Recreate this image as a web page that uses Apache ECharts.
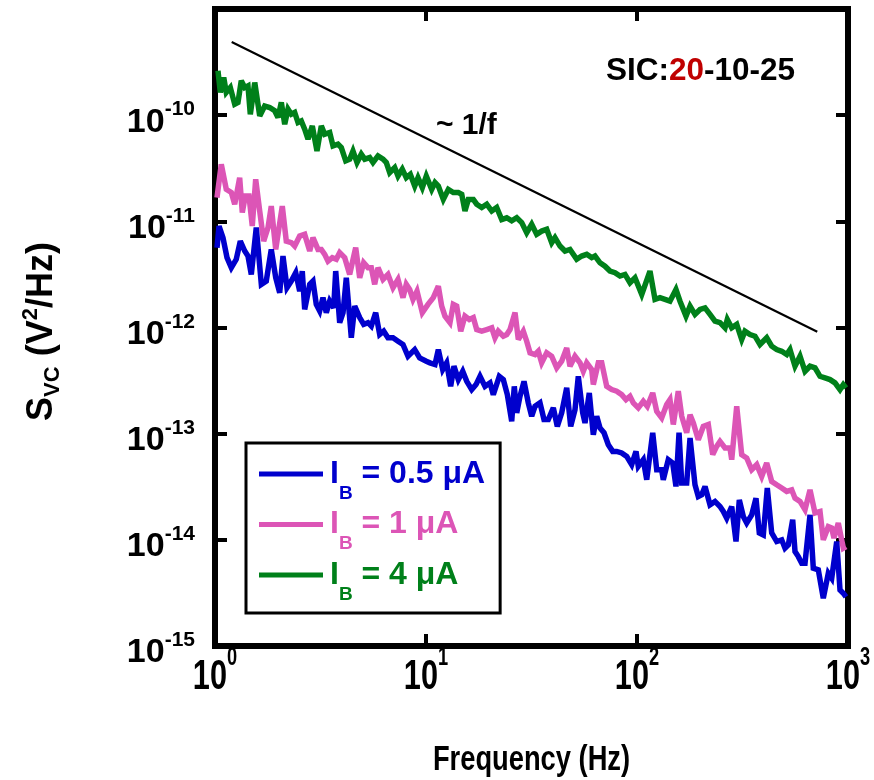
<!DOCTYPE html>
<html>
<head>
<meta charset="utf-8">
<script src="https://cdn.jsdelivr.net/npm/echarts@6/dist/echarts.min.js"></script>
<style>
  html, body { margin: 0; padding: 0; background: #ffffff; }
  #chart { width: 874px; height: 780px; }
</style>
</head>
<body>
<div id="chart"></div>
<script>
// Collector voltage noise spectral density S_VC versus frequency, three base currents.

// I_B = 0.5 uA
const freqLow = [
  1.022, 1.045, 1.091, 1.140, 1.195, 1.261, 1.318, 1.383, 1.433, 1.486,
  1.569, 1.658, 1.750, 1.848, 1.940, 2.026, 2.100, 2.194, 2.299, 2.413,
  2.520, 2.592, 2.661, 2.811, 2.913, 3.020, 3.134, 3.249, 3.369, 3.496,
  3.652, 3.733, 3.899, 4.044, 4.191, 4.426, 4.594, 4.851, 5.066, 5.310,
  5.505, 5.775, 6.033, 6.302, 6.603, 6.977, 7.368, 7.780, 8.216, 8.842,
  9.335, 10.03,
  10.44, 11.03, 11.44, 12.00, 12.53, 13.09, 13.57, 14.23, 14.93, 15.60,
  16.47, 17.26, 18.03, 19.04, 20.11, 20.84, 22.25, 23.25, 24.29, 25.48,
  26.21, 26.91, 27.89, 29.14, 30.53, 31.69, 32.86, 34.69, 36.24, 37.98,
  40.12, 41.91, 43.96, 46.44, 48.51, 50.83, 52.70, 55.29, 56.70, 59.41,
  62.08, 64.42, 66.78, 69.76, 73.11, 76.70, 80.13, 84.62, 89.37, 94.38,
  98.92,
  101.4, 107.1, 111.2, 118.7, 124.0, 130.9, 133.2, 140.7, 147.6, 153.0,
  158.2, 162.9, 172.0, 178.4, 188.3, 195.2, 202.6, 210.1, 221.8, 234.2,
  247.4, 256.5, 266.2, 281.1, 294.6, 305.4, 319.0, 331.1, 349.6, 366.4,
  379.9, 396.8, 414.5, 434.9, 459.3, 485.1, 502.8, 521.3, 546.8, 560.9,
  581.5, 603.5, 625.6, 660.7, 684.8, 723.2, 763.7, 806.6, 837.1, 884.0,
  916.5, 950.0, 978.4
];
const svcLow = [
  5.65e-12, 9.03e-12, 7.02e-12, 4.55e-12, 3.66e-12, 4.39e-12, 6.52e-12, 5.25e-12, 4.71e-12, 3.16e-12,
  8.73e-12, 2.55e-12, 2.74e-12, 5.44e-12, 2.94e-12, 2.12e-12, 4.71e-12, 2.37e-12, 2.74e-12, 3.28e-12,
  2.20e-12, 3.40e-12, 1.48e-12, 2.55e-12, 2.74e-12, 1.65e-12, 1.43e-12, 1.91e-12, 1.38e-12, 1.77e-12,
  1.53e-12, 3.40e-12, 1.11e-12, 1.38e-12, 2.94e-12, 8.00e-13, 1.59e-12, 1.24e-12, 1.07e-12, 1.11e-12,
  1.03e-12, 1.38e-12, 8.59e-13, 9.23e-13, 8.00e-13, 8.00e-13, 7.43e-13, 6.92e-13, 5.36e-13, 6.19e-13,
  5.18e-13, 4.81e-13,
  4.65e-13, 4.48e-13, 6.19e-13, 4.02e-13, 4.65e-13, 2.79e-13, 4.32e-13, 3.23e-13, 3.87e-13, 3.11e-13,
  2.60e-13, 2.90e-13, 3.47e-13, 2.79e-13, 3.01e-13, 2.33e-13, 3.47e-13, 3.23e-13, 2.33e-13, 1.31e-13,
  2.79e-13, 1.57e-13, 2.25e-13, 3.11e-13, 1.95e-13, 1.46e-13, 1.81e-13, 1.95e-13, 1.36e-13, 1.36e-13,
  1.75e-13, 1.17e-13, 1.57e-13, 2.70e-13, 1.17e-13, 1.68e-13, 3.47e-13, 1.57e-13, 1.26e-13, 2.42e-13,
  9.79e-14, 1.46e-13, 1.13e-13, 1.02e-13, 7.87e-14, 6.81e-14, 6.81e-14, 6.58e-14, 6.11e-14, 5.10e-14,
  6.81e-14,
  4.92e-14, 5.69e-14, 3.68e-14, 1.02e-13, 4.57e-14, 4.57e-14, 3.68e-14, 5.69e-14, 5.30e-14, 3.18e-14,
  1.02e-13, 3.43e-14, 3.43e-14, 9.10e-14, 3.30e-14, 2.56e-14, 2.66e-14, 3.18e-14, 2.14e-14, 2.30e-14,
  2.06e-14, 1.85e-14, 1.60e-14, 2.06e-14, 9.64e-15, 2.38e-14, 1.66e-14, 1.44e-14, 1.72e-14, 2.47e-14,
  1.16e-14, 1.11e-14, 3.08e-14, 1.16e-14, 9.64e-15, 1.00e-14, 8.35e-15, 8.97e-15, 1.55e-14, 7.76e-15,
  6.95e-15, 6.03e-15, 6.03e-15, 1.72e-14, 5.41e-15, 5.21e-15, 2.82e-15, 4.85e-15, 4.35e-15, 9.64e-15,
  3.37e-15, 3.14e-15, 2.90e-15
];

// I_B = 1 uA
const freqMid = [
  1.022, 1.071, 1.131, 1.195, 1.240, 1.309, 1.347, 1.392, 1.449, 1.502,
  1.559, 1.629, 1.701, 1.783, 1.848, 1.940, 2.084, 2.177, 2.299, 2.386,
  2.520, 2.661, 2.811, 2.913, 3.077, 3.190, 3.311, 3.432, 3.597, 3.757,
  3.899, 4.119, 4.348, 4.643, 4.851, 5.066, 5.310, 5.505, 5.713, 5.923,
  6.256, 6.603, 6.977, 7.368, 7.780, 8.064, 8.369, 8.678, 9.065, 9.605,
  10.22,
  10.83, 11.44, 11.87, 12.30, 12.99, 13.47, 13.98, 14.61, 15.30, 16.04,
  16.76, 17.39, 18.37, 19.40, 20.49, 21.23, 22.01, 23.25, 24.13, 25.01,
  26.42, 27.38, 28.92, 30.01, 31.12, 32.86, 34.06, 35.34, 37.33, 39.42,
  41.64, 43.96, 46.44, 48.13, 50.83, 53.70, 55.66, 57.76, 61.00, 62.08,
  65.56, 68.04, 71.84, 75.87, 80.13, 84.62, 88.69, 92.64, 96.05,
  101.4, 107.1, 111.9, 118.7, 124.0, 130.9, 138.3, 143.3, 148.6, 156.9,
  162.9, 172.0, 178.4, 184.9, 195.2, 206.2, 217.7, 228.5, 238.6, 247.4,
  261.3, 275.9, 281.1, 296.9, 313.5, 331.1, 349.6, 369.3, 389.9, 411.8,
  434.9, 459.3, 485.1, 512.3, 541.0, 560.9, 592.3, 625.6, 660.7, 697.7,
  736.9, 763.7, 806.6, 837.1, 858.3, 899.5, 950.0, 978.4
];
const svcMid = [
  1.67e-11, 3.45e-11, 2.00e-11, 1.87e-11, 1.45e-11, 2.58e-11, 1.21e-11, 1.73e-11, 1.73e-11, 9.03e-12,
  2.49e-11, 1.25e-11, 6.52e-12, 8.73e-12, 1.39e-11, 5.44e-12, 1.39e-11, 6.52e-12, 6.30e-12, 5.85e-12,
  7.26e-12, 7.54e-12, 5.25e-12, 7.02e-12, 5.44e-12, 5.44e-12, 4.89e-12, 4.22e-12, 4.55e-12, 4.39e-12,
  5.07e-12, 4.55e-12, 3.16e-12, 5.65e-12, 2.94e-12, 4.07e-12, 3.66e-12, 3.66e-12, 2.55e-12, 3.66e-12,
  2.84e-12, 3.16e-12, 2.37e-12, 2.84e-12, 1.91e-12, 2.55e-12, 2.28e-12, 1.84e-12, 2.20e-12, 1.38e-12,
  1.65e-12,
  1.91e-12, 2.45e-12, 1.59e-12, 1.28e-12, 1.11e-12, 1.65e-12, 1.59e-12, 9.23e-13, 1.28e-12, 1.19e-12,
  1.24e-12, 9.57e-13, 9.23e-13, 9.57e-13, 9.93e-13, 8.00e-13, 9.23e-13, 8.28e-13, 8.59e-13, 9.57e-13,
  1.38e-12, 7.71e-13, 9.23e-13, 7.43e-13, 5.77e-13, 5.56e-13, 5.97e-13, 4.65e-13, 5.77e-13, 5.36e-13,
  4.17e-13, 4.81e-13, 6.43e-13, 4.32e-13, 5.36e-13, 4.65e-13, 3.87e-13, 4.65e-13, 4.02e-13, 2.90e-13,
  4.65e-13, 4.65e-13, 2.79e-13, 2.60e-13, 2.51e-13, 2.33e-13, 2.09e-13, 2.25e-13, 1.95e-13,
  1.75e-13, 2.02e-13, 1.81e-13, 2.42e-13, 1.62e-13, 1.41e-13, 1.88e-13, 2.09e-13, 1.22e-13, 2.51e-13,
  1.46e-13, 1.02e-13, 1.51e-13, 1.26e-13, 8.77e-14, 1.17e-13, 1.22e-13, 6.34e-14, 7.59e-14, 8.46e-14,
  7.33e-14, 7.33e-14, 5.69e-14, 1.81e-13, 6.34e-14, 5.90e-14, 4.57e-14, 5.10e-14, 3.95e-14, 5.30e-14,
  3.55e-14, 3.30e-14, 3.08e-14, 2.86e-14, 2.96e-14, 2.47e-14, 2.30e-14, 1.92e-14, 2.96e-14, 1.79e-14,
  1.85e-14, 1.00e-14, 1.33e-14, 1.29e-14, 1.04e-14, 1.44e-14, 8.35e-15, 8.65e-15
];

// I_B = 4 uA
const freqHigh = [
  1.033, 1.060, 1.100, 1.131, 1.182, 1.240, 1.285, 1.332, 1.383, 1.433,
  1.470, 1.543, 1.629, 1.720, 1.816, 1.918, 1.989, 2.062, 2.140, 2.218,
  2.299, 2.386, 2.474, 2.564, 2.661, 2.759, 2.892, 3.043, 3.190, 3.311,
  3.496, 3.625, 3.827, 3.968, 4.164, 4.348, 4.508, 4.710, 4.935, 5.123,
  5.410, 5.608, 5.923, 6.256, 6.485, 6.730, 7.107, 7.368, 7.720, 8.064,
  8.425, 8.842, 9.166, 9.605, 10.03,
  10.25, 10.64, 11.03, 11.44, 12.08, 12.76, 13.47, 14.23, 14.77, 15.30,
  15.87, 16.76, 17.39, 18.37, 19.40, 20.49, 21.63, 22.85, 24.13, 25.48,
  26.91, 28.42, 30.01, 31.69, 33.47, 35.34, 37.33, 39.42, 40.87, 43.16,
  45.58, 48.13, 51.79, 54.70, 57.76, 61.00, 63.23, 66.78, 70.52, 74.47,
  78.65, 83.06, 87.72, 92.64,
  97.84, 105.3, 115.2, 121.7, 128.5, 135.7, 143.3, 153.0, 159.9, 170.7,
  178.4, 188.3, 198.9, 210.1, 221.8, 234.2, 247.4, 261.3, 267.9, 281.1,
  296.9, 313.5, 324.9, 343.2, 362.4, 382.7, 411.8, 434.9, 459.3, 485.1,
  512.3, 531.1, 560.9, 592.3, 625.6, 660.7, 697.7, 736.9, 778.0, 821.7,
  867.8, 916.5, 950.0, 978.4
];
const svcHigh = [
  2.62e-10, 1.64e-10, 2.27e-10, 1.64e-10, 1.82e-10, 1.27e-10, 1.32e-10, 2.11e-10, 1.82e-10, 1.89e-10,
  1.02e-10, 2.03e-10, 9.84e-11, 1.22e-10, 1.18e-10, 1.10e-10, 9.51e-11, 1.32e-10, 8.22e-11, 1.14e-10,
  1.02e-10, 1.06e-10, 8.53e-11, 8.83e-11, 7.38e-11, 5.94e-11, 7.92e-11, 4.60e-11, 7.92e-11, 6.62e-11,
  6.87e-11, 5.13e-11, 5.32e-11, 4.95e-11, 3.71e-11, 3.85e-11, 4.60e-11, 3.58e-11, 4.29e-11, 3.85e-11,
  3.99e-11, 3.58e-11, 4.13e-11, 3.85e-11, 3.58e-11, 2.88e-11, 3.21e-11, 2.67e-11, 3.10e-11, 2.58e-11,
  2.77e-11, 2.15e-11, 2.58e-11, 2.08e-11, 2.67e-11,
  2.77e-11, 2.00e-11, 2.32e-11, 2.15e-11, 1.61e-11, 2.00e-11, 1.87e-11, 1.87e-11, 1.80e-11, 1.25e-11,
  1.61e-11, 1.61e-11, 1.45e-11, 1.35e-11, 1.45e-11, 1.25e-11, 1.35e-11, 1.04e-11, 1.08e-11, 1.01e-11,
  1.08e-11, 9.72e-12, 7.82e-12, 9.38e-12, 7.54e-12, 8.09e-12, 8.41e-12, 6.30e-12, 7.02e-12, 5.85e-12,
  5.25e-12, 5.44e-12, 4.39e-12, 4.71e-12, 4.89e-12, 4.55e-12, 4.71e-12, 4.07e-12, 3.78e-12, 3.40e-12,
  3.28e-12, 3.05e-12, 3.16e-12, 2.64e-12,
  2.94e-12, 2.05e-12, 3.40e-12, 1.84e-12, 1.91e-12, 1.84e-12, 1.77e-12, 2.28e-12, 1.77e-12, 1.28e-12,
  1.59e-12, 1.33e-12, 1.48e-12, 1.53e-12, 1.33e-12, 1.15e-12, 1.11e-12, 9.93e-13, 1.19e-12, 9.93e-13,
  1.07e-12, 7.71e-13, 9.23e-13, 8.59e-13, 8.28e-13, 6.92e-13, 8.00e-13, 6.67e-13, 6.19e-13, 5.97e-13,
  5.56e-13, 6.19e-13, 4.32e-13, 5.36e-13, 3.87e-13, 4.32e-13, 4.17e-13, 3.47e-13, 3.35e-13, 3.23e-13,
  3.01e-13, 2.60e-13, 2.90e-13, 2.70e-13
];

// 1/f guide line end points
const slopeFreq = [1.2, 715];
const slopeSvc = [4.9e-10, 9.1e-13];

// Legend entries and colours
const seriesCurrents = ['0.5', '1', '4'];
const seriesColors = ['#0000CD', '#DC55B6', '#00801A'];

// Axis ranges and frequency tick values
const freqRange = [1, 1000];
const svcRange = [1e-15, 1e-9];
const freqTicks = [1, 10, 100, 1000];

const FONT = '"Liberation Sans", Arial, Helvetica, sans-serif';

function pairs(xs, ys) {
  return xs.map(function (x, i) { return [x, ys[i]]; });
}
function exponentOf(v) {
  return Math.round(Math.log10(v));
}
function powerLabel(v) {
  return '{b|10}{s|' + exponentOf(v) + '}';
}

const yPowerRich = {
  b: { fontSize: 34, fontWeight: 'bold', fontFamily: FONT, color: '#000', lineHeight: 40, verticalAlign: 'bottom' },
  s: { fontSize: 21, fontWeight: 'bold', fontFamily: FONT, color: '#000', lineHeight: 20, verticalAlign: 'top' }
};
// frequency labels use a tall, condensed setting of the same face
const xPowerRich = {
  b: { fontSize: 42, fontWeight: 'bold', fontFamily: FONT, fill: '#000', lineHeight: 52, verticalAlign: 'bottom' },
  s: { fontSize: 25, fontWeight: 'bold', fontFamily: FONT, fill: '#000', lineHeight: 22, verticalAlign: 'top' }
};

const seriesNames = seriesCurrents.map(function (c) { return 'I_B = ' + c + ' \u03bcA'; });

const legendRich = {};
seriesColors.forEach(function (col, i) {
  legendRich['i' + i] = { fontSize: 32, fontWeight: 'bold', fontFamily: FONT, color: col, lineHeight: 58, verticalAlign: 'middle', padding: [0, 0, 0, 2] };
  legendRich['b' + i] = { fontSize: 19, fontWeight: 'bold', fontFamily: FONT, color: col, lineHeight: 14, verticalAlign: 'bottom' };
  legendRich['t' + i] = { fontSize: 32, fontWeight: 'bold', fontFamily: FONT, color: col, lineHeight: 58, verticalAlign: 'middle' };
});

const tickStyle = { inside: true, length: 12, lineStyle: { color: '#000', width: 4 } };

const lineData = [pairs(freqLow, svcLow), pairs(freqMid, svcMid), pairs(freqHigh, svcHigh)];

const chart = echarts.init(document.getElementById('chart'), null, { renderer: 'canvas' });

const series = [];
// draw the highest current first so the lower traces sit on top
[2, 1, 0].forEach(function (i) {
  series.push({
    name: seriesNames[i],
    type: 'line',
    data: lineData[i],
    showSymbol: false,
    symbol: 'none',
    color: seriesColors[i],
    lineStyle: { color: seriesColors[i], width: 5.5, join: 'miter', miterLimit: 3 },
    z: 3 + (2 - i)
  });
});
series.push({
  name: 'slope',
  type: 'line',
  data: pairs(slopeFreq, slopeSvc),
  showSymbol: false,
  symbol: 'none',
  silent: true,
  lineStyle: { color: '#000', width: 2.2 },
  z: 2
});

const GRID = { left: 215, top: 9, width: 633, height: 637 };

chart.setOption({
  animation: false,
  backgroundColor: '#ffffff',
  grid: {
    left: GRID.left, top: GRID.top, width: GRID.width, height: GRID.height,
    outerBoundsMode: 'none', containLabel: false,
    show: true, borderColor: '#000', borderWidth: 6, backgroundColor: 'transparent'
  },
  xAxis: [{
    type: 'log', logBase: 10, min: freqRange[0], max: freqRange[1], position: 'bottom',
    axisLine: { show: false }, splitLine: { show: false }, minorTick: { show: false },
    axisTick: tickStyle,
    axisLabel: { show: false }
  }, {
    type: 'log', logBase: 10, min: freqRange[0], max: freqRange[1], position: 'top',
    axisLine: { show: false }, splitLine: { show: false }, minorTick: { show: false },
    axisTick: tickStyle, axisLabel: { show: false }
  }],
  yAxis: [{
    type: 'log', logBase: 10, min: svcRange[0], max: svcRange[1], position: 'left',
    axisLine: { show: false }, splitLine: { show: false }, minorTick: { show: false },
    axisTick: tickStyle,
    axisLabel: {
      margin: 20, rich: yPowerRich, padding: [8, 0, 0, 0],
      formatter: function (v) { return exponentOf(v) >= -9 ? '' : powerLabel(v); }
    },
    name: '{m|S}{sub|VC}{m| (V}{sup|2}{m|/Hz)}',
    nameLocation: 'middle', nameRotate: 90, nameGap: 151,
    nameTextStyle: {
      padding: [0, 8, 0, 0],
      rich: {
        m: { fontSize: 36, fontWeight: 'bold', fontFamily: FONT, color: '#000', lineHeight: 44, verticalAlign: 'middle' },
        sub: { fontSize: 22, fontWeight: 'bold', fontFamily: FONT, color: '#000', lineHeight: 22, verticalAlign: 'bottom' },
        sup: { fontSize: 22, fontWeight: 'bold', fontFamily: FONT, color: '#000', lineHeight: 18, verticalAlign: 'top' }
      }
    }
  }, {
    type: 'log', logBase: 10, min: svcRange[0], max: svcRange[1], position: 'right',
    axisLine: { show: false }, splitLine: { show: false }, minorTick: { show: false },
    axisTick: tickStyle, axisLabel: { show: false }
  }],
  legend: {
    orient: 'vertical', left: 246, top: 443,
    data: seriesNames.slice(),
    icon: 'rect', itemWidth: 64, itemHeight: 5, itemGap: 5.5,
    padding: [15, 15, 9, 13],
    borderColor: '#000', borderWidth: 3, backgroundColor: '#ffffff',
    selectedMode: false,
    formatter: function (name) {
      const i = seriesNames.indexOf(name);
      return '{i' + i + '|I}{b' + i + '|B}{t' + i + '| = ' + seriesCurrents[i] + ' \u03bcA}';
    },
    textStyle: { rich: legendRich }
  },
  series: series
});

// Frequency tick labels and axis title, placed from the x axis scale.
const graphics = [];
freqTicks.forEach(function (v, i) {
  const px = chart.convertToPixel({ xAxisIndex: 0 }, v);
  graphics.push({
    type: 'text', id: 'freqTick' + i, x: px, y: 646, scaleX: 0.73, z: 10, silent: true,
    style: {
      text: powerLabel(v), rich: xPowerRich,
      align: 'center', textAlign: 'center', verticalAlign: 'top', textVerticalAlign: 'top'
    }
  });
});
graphics.push({
  type: 'text', id: 'freqTitle', x: GRID.left + GRID.width / 2, y: 760, scaleX: 0.78, z: 10, silent: true,
  style: {
    text: 'Frequency (Hz)', font: 'bold 35px ' + FONT, fill: '#000',
    align: 'center', textAlign: 'center', verticalAlign: 'middle', textVerticalAlign: 'middle'
  }
});
graphics.push({
  type: 'text', id: 'slopeNote', left: 436, top: 111, z: 10, silent: true,
  style: { text: '~ 1/f', font: 'bold 30px ' + FONT, fill: '#000' }
});
graphics.push({
  type: 'text', id: 'sampleTag', left: 606, top: 55, z: 10, silent: true,
  style: {
    text: '{k|SIC:}{r|20}{k|-10-25}',
    rich: {
      k: { fontSize: 31.5, fontWeight: 'bold', fontFamily: FONT, fill: '#000' },
      r: { fontSize: 31.5, fontWeight: 'bold', fontFamily: FONT, fill: '#C00000' }
    }
  }
});
chart.setOption({ graphic: graphics });
</script>
</body>
</html>
